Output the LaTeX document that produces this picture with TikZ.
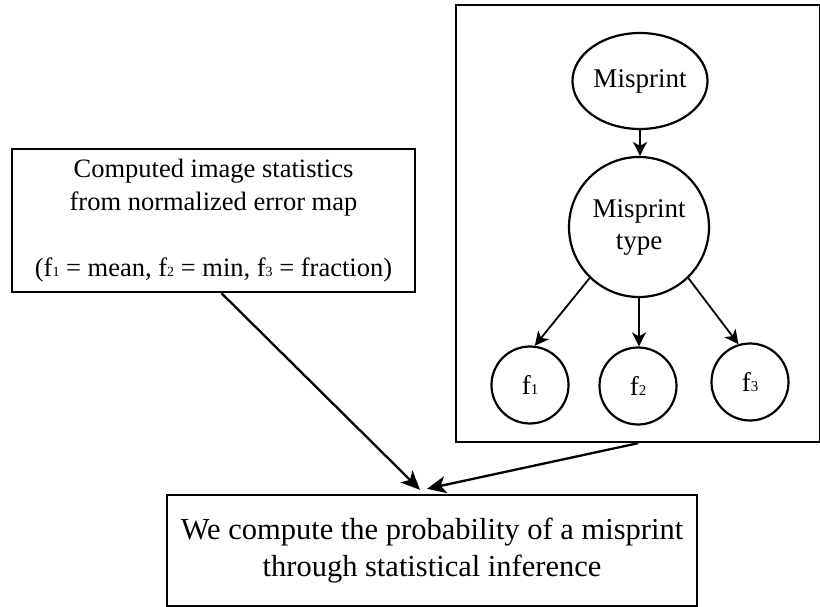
\documentclass[tikz,border=0pt]{standalone}
\usepackage{fontspec}
\setmainfont{Liberation Serif}
\usetikzlibrary{arrows.meta,shapes.geometric,calc}
\newcommand\dgsub[2]{{\fontsize{#1}{#1}\selectfont #2}}
\tikzset{
  boxn/.style={draw, line width=2.4pt, rectangle, inner sep=0pt},
  circn/.style={draw, line width=2.2pt, circle, inner sep=0pt, font=\fontsize{27}{32}\selectfont, align=center},
  arr/.style={-{Stealth[length=14pt,width=14pt,inset=4pt]}, line width=1.8pt},
  bigarr/.style={-{Stealth[length=19pt,width=17pt,inset=5pt]}, line width=2.3pt},
}
\begin{document}
\begin{tikzpicture}[x=1pt,y=-1pt]
\useasboundingbox (0,0) rectangle (820,607);
% left box
\node[boxn, minimum width=403pt, minimum height=143pt, align=center,
      font=\fontsize{26.5}{33}\selectfont] (lb) at (213.5,220.5)
  {Computed image statistics\\from normalized error map\\[33pt]
   (f\dgsub{14}{1} = mean, f\dgsub{14}{2} = min, f\dgsub{14}{3} = fraction)};
% right box
\node[boxn, minimum width=364pt, minimum height=437pt] (rb) at (638,223.5) {};
% bottom box
\node[boxn, minimum width=530pt, minimum height=111pt, align=center,
      font=\fontsize{30.5}{37}\selectfont] (bb) at (432,550.5)
  {We compute the probability of a misprint\\through statistical inference};
% graph
\node[draw, line width=2.2pt, ellipse, minimum width=135pt, minimum height=96pt, inner sep=0pt,
      font=\fontsize{27}{32}\selectfont] (mp) at (640,81) {Misprint};
\node[circn, minimum size=140pt] (mt) at (639,227) {Misprint\\type};
\node[circn, minimum size=77pt] (f1) at (530,385) {f\dgsub{15}{1}};
\node[circn, minimum size=77pt] (f2) at (638,386) {f\dgsub{15}{2}};
\node[circn, minimum size=77pt] (f3) at (750,382) {f\dgsub{15}{3}};
\draw[arr] (mp.south) -- (mp.south |- mt.north);
\draw[arr] (mt.226) -- (f1.83);
\draw[arr] (mt.south) -- (mt.south |- f2.north);
\draw[arr] (mt.314) -- (f3.107);
\draw[bigarr] ($(lb.south)+(8,0)$) -- ($(bb.north)+(-12,-4)$);
\draw[bigarr] (rb.south) -- ($(bb.north)+(-5,-5)$);
\end{tikzpicture}
\end{document}
